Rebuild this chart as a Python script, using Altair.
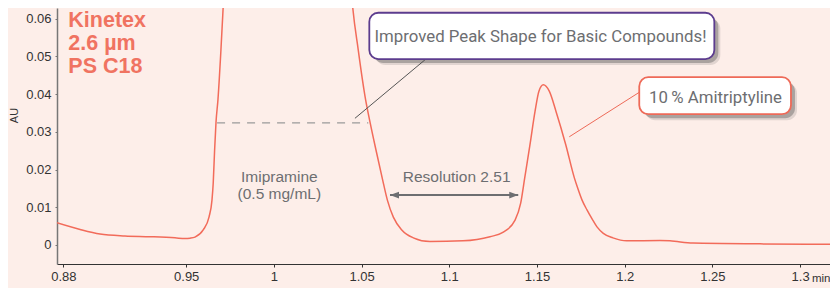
import altair as alt
import pandas as pd

# ---- chromatogram ----
time_min = [0.8763, 0.8895, 0.9009, 0.9151, 0.9294, 0.9436, 0.9493, 0.9522, 0.9550, 0.9597,
            0.9630, 0.9647, 0.9654, 0.9662, 0.9670, 0.9681, 0.9698, 0.9712, 0.9740, 1.0080,
            1.0410, 1.0447, 1.0481, 1.0523, 1.0548, 1.0582, 1.0624, 1.0647, 1.0681, 1.0729,
            1.0795, 1.0890, 1.1078, 1.1232, 1.1308, 1.1375, 1.1407, 1.1430, 1.1460, 1.1489,
            1.1511, 1.1536, 1.1570, 1.1608, 1.1664, 1.1713, 1.1732, 1.1757, 1.1785, 1.1814,
            1.1842, 1.1878, 1.1933, 1.2011, 1.2201, 1.2258, 1.2389, 1.2771, 1.3216]
au = [0.0059, 0.0041, 0.0029, 0.0024, 0.0022, 0.0019, 0.0017, 0.0018, 0.0021, 0.0040,
      0.0074, 0.0119, 0.0164, 0.0252, 0.0326, 0.0385, 0.0517, 0.0642, 0.0900, 0.2000,
      0.0900, 0.0642, 0.0517, 0.0385, 0.0326, 0.0252, 0.0164, 0.0119, 0.0074, 0.0040,
      0.0019, 0.0009, 0.0011, 0.0022, 0.0034, 0.0066, 0.0111, 0.0178, 0.0266, 0.0355,
      0.0408, 0.0425, 0.0408, 0.0355, 0.0266, 0.0178, 0.0151, 0.0119, 0.0093, 0.0069,
      0.0048, 0.0031, 0.0019, 0.0011, 0.0012, 0.0011, 0.0005, 0.0003, 0.0002]

x_ticks = [0.88, 0.95, 1.0, 1.05, 1.1, 1.15, 1.2, 1.25, 1.3]
y_ticks = [0, 0.01, 0.02, 0.03, 0.04, 0.05, 0.06]

x_domain = [0.87634, 1.31705]
y_domain = [-0.00504, 0.06286]

# ---- annotations ----
kinetex_lines = ["Kinetex", "2.6 µm", "PS C18"]
kinetex_x = [0.8828]
kinetex_y = [0.05769]

label_text = ["Imipramine", "(0.5 mg/mL)", "Resolution 2.51"]
label_x = [1.0031, 1.0031, 1.1042]
label_y = [0.01663, 0.0122, 0.01663]

box_text = ["Improved Peak Shape for Basic Compounds!", "10\u2009% Amitriptyline"]
box_text_x = [1.1520, 1.2518]
box_text_y = [0.05377, 0.03775]
box_x1 = [1.0544, 1.2083]
box_x2 = [1.2511, 1.2948]
box_y1 = [0.0493, 0.0347]
box_y2 = [0.0616, 0.0445]
box_stroke = ["#5C3C8E", "#EE6A58"]

dash_x1, dash_x2, dash_y = [0.9676], [1.0538], [0.0324]
callout_x1 = [1.0462, 1.1684]
callout_y1 = [0.0336, 0.0287]
callout_x2 = [1.0861, 1.2083]
callout_y2 = [0.0491, 0.0405]
callout_color = ["#555555", "#EE6A58"]

arrow_x1, arrow_x2, arrow_y = [1.0662], [1.1393], [0.01326]

LINE = "#F26B5A"
GRAY = "#6D6E71"
BG = "#FDEEE9"

xs = alt.Scale(domain=x_domain, nice=False, zero=False)
ys = alt.Scale(domain=y_domain, nice=False, zero=False)

curve_df = pd.DataFrame({"t": time_min, "au": au})
curve = alt.Chart(curve_df).mark_line(
    color=LINE, strokeWidth=1.5, interpolate="monotone", clip=True
).encode(
    x=alt.X("t:Q", scale=xs, axis=alt.Axis(
        values=x_ticks, format=".3~f", title="min", grid=False,
        labelFontSize=13, labelColor="#333333", labelFont="Liberation Sans",
        labelPadding=3, tickSize=3, tickColor="#333333",
        domainColor="#333333", domainWidth=1.2,
        titleFontSize=11.5, titleFontWeight="normal", titleColor="#333333",
        titleFont="Liberation Sans", titleX=773, titleY=17, titleAlign="right",
        titleBaseline="alphabetic", labelFlush=False)),
    y=alt.Y("au:Q", scale=ys, axis=alt.Axis(
        values=y_ticks, format=".2~f", title="AU", grid=False,
        labelFontSize=13, labelColor="#333333", labelFont="Liberation Sans",
        labelPadding=4, tickSize=2, tickColor="#777777",
        domainColor="#777777", domainWidth=1.5,
        titleFontSize=11, titleFontWeight="normal", titleColor="#333333",
        titleFont="Liberation Sans", titleX=-38, titleY=107, titleAngle=270,
        titleAlign="center", titleBaseline="bottom")),
)

dash = alt.Chart(pd.DataFrame({"x": dash_x1, "x2": dash_x2, "y": dash_y})).mark_rule(
    color="#9A9A9A", strokeWidth=1.2, strokeDash=[8, 7]
).encode(x=alt.X("x:Q", scale=xs), x2="x2:Q", y=alt.Y("y:Q", scale=ys))

callouts = alt.Chart(pd.DataFrame({"x": callout_x1, "y": callout_y1, "x2": callout_x2,
                                   "y2": callout_y2, "c": callout_color})).mark_rule(
    strokeWidth=1
).encode(x=alt.X("x:Q", scale=xs), y=alt.Y("y:Q", scale=ys), x2="x2:Q", y2="y2:Q",
         color=alt.Color("c:N", scale=None))

box_df = pd.DataFrame({"x": box_x1, "x2": box_x2, "y": box_y1, "y2": box_y2,
                       "s": box_stroke})
shadow1 = alt.Chart(box_df).mark_rect(
    color="#444444", opacity=0.15, cornerRadius=10,
    xOffset=6, x2Offset=6, yOffset=6, y2Offset=6
).encode(x=alt.X("x:Q", scale=xs), x2="x2:Q", y=alt.Y("y:Q", scale=ys), y2="y2:Q")
shadow2 = alt.Chart(box_df).mark_rect(
    color="#444444", opacity=0.35, cornerRadius=10,
    xOffset=4, x2Offset=4, yOffset=4, y2Offset=4
).encode(x=alt.X("x:Q", scale=xs), x2="x2:Q", y=alt.Y("y:Q", scale=ys), y2="y2:Q")
boxes = alt.Chart(box_df).mark_rect(
    fill="white", strokeWidth=1.8, cornerRadius=9
).encode(x=alt.X("x:Q", scale=xs), x2="x2:Q", y=alt.Y("y:Q", scale=ys), y2="y2:Q",
         stroke=alt.Stroke("s:N", scale=None))

box_labels = alt.Chart(pd.DataFrame({"x": box_text_x, "y": box_text_y, "t": box_text})).mark_text(
    font="Roboto", fontSize=16.8, color=GRAY, align="center", baseline="alphabetic"
).encode(x=alt.X("x:Q", scale=xs), y=alt.Y("y:Q", scale=ys), text="t:N")

labels = alt.Chart(pd.DataFrame({"x": label_x, "y": label_y, "t": label_text})).mark_text(
    font="Liberation Sans", fontSize=15.5, color=GRAY, align="center", baseline="alphabetic"
).encode(x=alt.X("x:Q", scale=xs), y=alt.Y("y:Q", scale=ys), text="t:N")

arrow_df = pd.DataFrame({"x": arrow_x1, "x2": arrow_x2, "y": arrow_y})
shaft = alt.Chart(arrow_df).mark_rule(color=GRAY, strokeWidth=2).encode(
    x=alt.X("x:Q", scale=xs), x2="x2:Q", y=alt.Y("y:Q", scale=ys))
head_l = alt.Chart(arrow_df).mark_point(
    shape="M0,0 L2,-0.75 L2,0.75 Z", size=81, filled=True, fill=GRAY, opacity=1, strokeWidth=0
).encode(x=alt.X("x:Q", scale=xs), y=alt.Y("y:Q", scale=ys))
head_r = alt.Chart(arrow_df).mark_point(
    shape="M0,0 L-2,-0.75 L-2,0.75 Z", size=81, filled=True, fill=GRAY, opacity=1, strokeWidth=0
).encode(x=alt.X("x2:Q", scale=xs), y=alt.Y("y:Q", scale=ys))

kinetex = alt.Chart(pd.DataFrame({"x": kinetex_x, "y": kinetex_y,
                                  "t": ["\n".join(kinetex_lines)]})).mark_text(
    font="Liberation Sans", fontSize=21.5, fontWeight="bold", color="#F07361",
    align="left", baseline="alphabetic", lineBreak="\n", lineHeight=22.6
).encode(x=alt.X("x:Q", scale=xs), y=alt.Y("y:Q", scale=ys), text="t:N")

chart = alt.layer(
    curve, dash, callouts, shadow1, shadow2, boxes, box_labels, labels,
    shaft, head_l, head_r, kinetex
).properties(
    width=773, height=256,
    autosize=alt.AutoSizeParams(type="none"),
    padding={"left": 49, "top": 0, "right": 0, "bottom": 24},
    background=BG,
).configure_view(stroke=None)

chart.save("out.html", embed_options={"renderer": "svg", "actions": False})
